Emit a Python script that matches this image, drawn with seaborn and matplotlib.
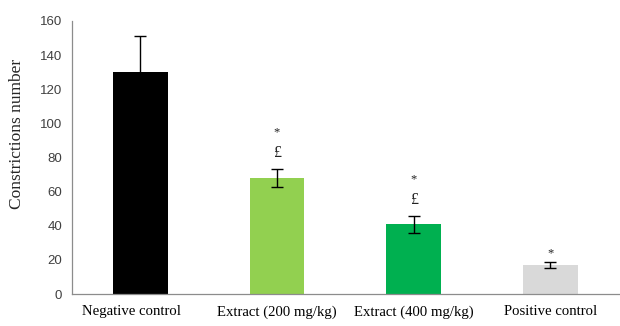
import matplotlib
matplotlib.use("Agg")
import matplotlib.pyplot as plt
import matplotlib.transforms as mtransforms
import seaborn as sns
import numpy as np

categories = ["Negative control", "Extract (200 mg/kg)", "Extract (400 mg/kg)", "Positive control"]
means = [130, 68, 41, 17]
errors = [21, 5.5, 5, 1.8]
star = [False, True, True, True]
pound = [False, True, True, False]
colors = ["#000000", "#92d050", "#00b050", "#d9d9d9"]

sns.set_style("white")
plt.rcParams["font.family"] = ["Liberation Serif", "DejaVu Serif"]

fig = plt.figure(figsize=(6.2, 3.26), dpi=100)
ax = fig.add_axes([0.116, 0.098, 0.882, 0.838])

sns.barplot(x=categories, y=means, hue=categories, palette=colors, width=0.4,
            legend=False, ax=ax, saturation=1, linewidth=0)
x = np.arange(len(categories))
ax.errorbar(x, means, yerr=errors, fmt="none", ecolor="black", elinewidth=1,
            capsize=4, capthick=1)

# significance marks above the error bars
for xi, m, e, s, p in zip(x, means, errors, star, pound):
    top = m + e
    if p:
        ax.text(xi, top + 9, "£", ha="center", va="center", fontsize=11.5,
                color="#222222")
        top += 9
    if s:
        ax.text(xi, top + (12 if p else 5), "*", ha="center", va="center",
                fontsize=9, color="#222222")

ax.set_xlim(-0.5, 3.5)
ax.set_ylim(0, 160)
ax.set_yticks(np.arange(0, 161, 20))
ax.set_ylabel("Constrictions number", fontsize=12.5)
ax.yaxis.set_label_coords(-0.086, 0.586)
ax.set_xlabel("")

for side in ["top", "right"]:
    ax.spines[side].set_visible(False)
for side in ["left", "bottom"]:
    ax.spines[side].set_color("#8c8c8c")
    ax.spines[side].set_linewidth(0.9)

ax.tick_params(axis="x", which="major", length=0, labelsize=10.6, pad=8, colors="black")
ax.set_xticks(np.arange(-0.5, 3.6, 1), minor=True)
ax.tick_params(axis="x", which="minor", length=4, color="#8c8c8c", direction="out")
ax.tick_params(axis="y", length=4, color="#8c8c8c", direction="out", labelsize=9.5,
               labelcolor="#404040", pad=3)
for lab in ax.get_yticklabels():
    lab.set_family(["Liberation Sans", "DejaVu Sans"])

first = ax.get_xticklabels()[0]
first.set_transform(first.get_transform() +
                    mtransforms.ScaledTranslation(-0.09, 0, fig.dpi_scale_trans))

fig.savefig("out.png", dpi=100)
